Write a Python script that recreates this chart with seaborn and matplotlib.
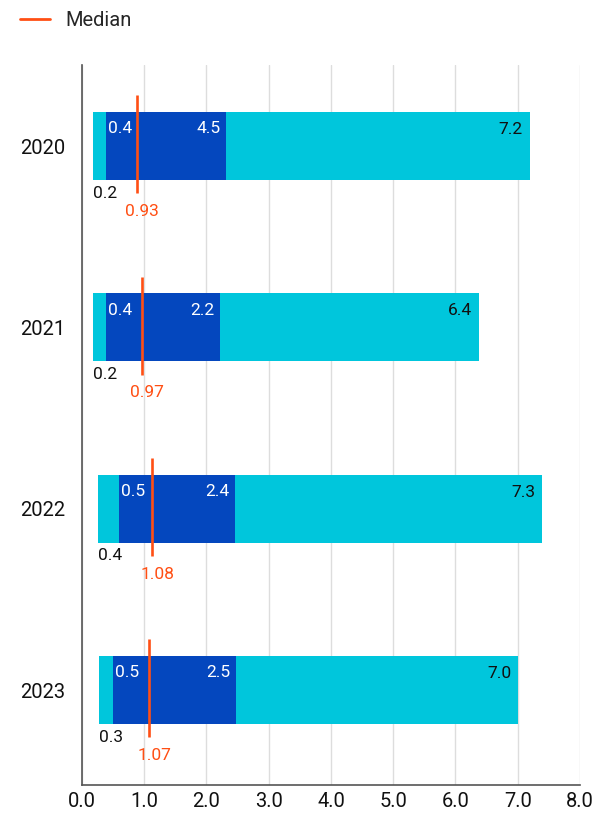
import matplotlib
matplotlib.use("Agg")
import matplotlib.pyplot as plt
from matplotlib.lines import Line2D
import seaborn as sns
import pandas as pd

years = ["2020", "2021", "2022", "2023"]
min_vals = [0.18, 0.18, 0.26, 0.28]
q1_vals = [0.39, 0.38, 0.59, 0.50]
median_vals = [0.88, 0.96, 1.13, 1.08]
q3_vals = [2.31, 2.21, 2.46, 2.47]
max_vals = [7.19, 6.38, 7.39, 7.01]

min_labels = ["0.2", "0.2", "0.4", "0.3"]
q1_labels = ["0.4", "0.4", "0.5", "0.5"]
median_labels = ["0.93", "0.97", "1.08", "1.07"]
q3_labels = ["4.5", "2.2", "2.4", "2.5"]
max_labels = ["7.2", "6.4", "7.3", "7.0"]
xticks = [0, 1, 2, 3, 4, 5, 6, 7, 8]

CYAN = "#00C6DC"
BLUE = "#0447BE"
ORANGE = "#FF4F14"

sns.set_theme(style="white")
plt.rcParams["font.family"] = ["Roboto", "DejaVu Sans"]

df = pd.DataFrame({
    "year": years,
    "range": [b - a for a, b in zip(min_vals, max_vals)],
    "iqr": [b - a for a, b in zip(q1_vals, q3_vals)],
})

fig = plt.figure(figsize=(6.1, 8.14), dpi=100)
ax = fig.add_axes([0.1344, 0.0356, 0.8164, 0.8844])

bw = 0.375
sns.barplot(data=df, x="range", y="year", orient="h", color=CYAN, width=bw,
            left=min_vals, saturation=1, linewidth=0, ax=ax, zorder=2)
sns.barplot(data=df, x="iqr", y="year", orient="h", color=BLUE, width=bw,
            left=q1_vals, saturation=1, linewidth=0, ax=ax, zorder=3)

for i in range(len(years)):
    ax.vlines(median_vals[i], i - 0.28, i + 0.26, color=ORANGE, lw=1.9, zorder=4)

fs = 12.5
for i in range(len(years)):
    ax.annotate(q1_labels[i], (q1_vals[i], i), xytext=(1.5, 12.5), textcoords="offset points",
                ha="left", va="center", color="white", fontsize=fs, zorder=5)
    ax.annotate(q3_labels[i], (q3_vals[i], i), xytext=(-4, 12.5), textcoords="offset points",
                ha="right", va="center", color="white", fontsize=fs, zorder=5)
    ax.annotate(max_labels[i], (max_vals[i], i), xytext=(-5, 12), textcoords="offset points",
                ha="right", va="center", color="#111111", fontsize=fs, zorder=5)
    ax.annotate(min_labels[i], (min_vals[i], i), xytext=(0, -34), textcoords="offset points",
                ha="left", va="center", color="#111111", fontsize=fs, zorder=5)
    ax.annotate(median_labels[i], (median_vals[i], i), xytext=(4, -47), textcoords="offset points",
                ha="center", va="center", color=ORANGE, fontsize=fs, zorder=5)

ax.set_xlim(0, 8)
ax.set_ylim(3.524, -0.447)
ax.set_xticks(xticks)
ax.set_xticklabels([f"{v:.1f}" for v in xticks])
ax.grid(axis="x", color="#DDDDDD", lw=1, zorder=0)
ax.set_axisbelow(True)
ax.set_xlabel("")
ax.set_ylabel("")
for s in ["top", "right"]:
    ax.spines[s].set_visible(False)
ax.spines["left"].set_color("#555555")
ax.spines["bottom"].set_color("#555555")
ax.spines["left"].set_linewidth(1.2)
ax.spines["bottom"].set_linewidth(1.2)
ax.tick_params(axis="both", length=0, labelsize=14.5, colors="#111111")
ax.tick_params(axis="y", pad=12)
ax.tick_params(axis="x", pad=5)

handle = Line2D([0], [0], color=ORANGE, lw=2)
fig.legend(handles=[handle], labels=["Median"], loc="upper left",
           bbox_to_anchor=(0.015, 1.0), frameon=False, fontsize=14.5,
           handlelength=1.5, handletextpad=0.75, borderaxespad=0.15)

fig.savefig("out.png", dpi=100)
